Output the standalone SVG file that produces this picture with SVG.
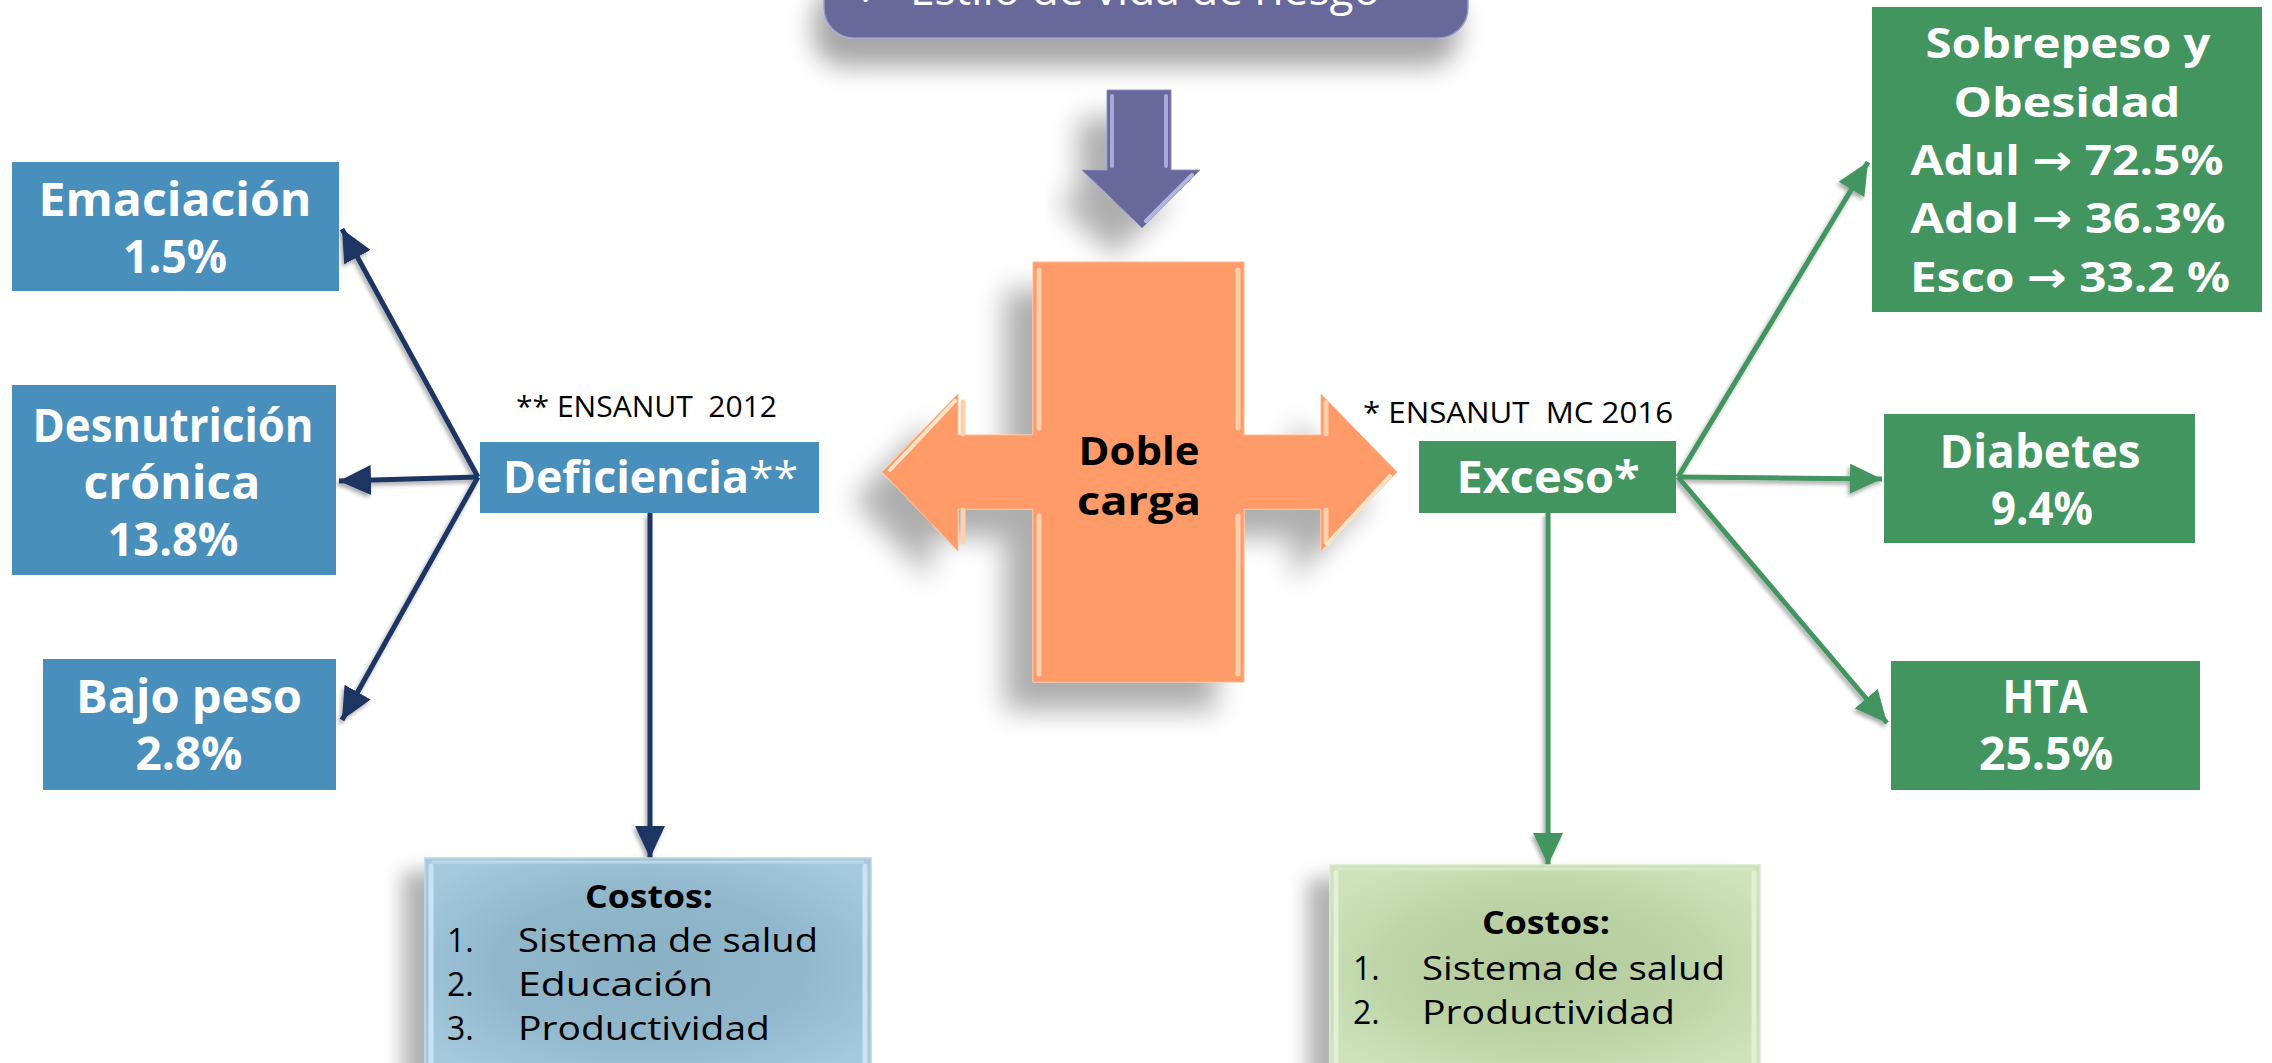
<svg xmlns="http://www.w3.org/2000/svg" width="2272" height="1063" viewBox="0 0 2272 1063">
<defs>
<style>
.bl{font-family:"Open Sans","DejaVu Sans",sans-serif;font-weight:700;fill:#fff;text-anchor:middle}
.bk{font-family:"Open Sans","DejaVu Sans",sans-serif;font-weight:700;fill:#000;text-anchor:middle}
.rg{font-family:"Open Sans","DejaVu Sans",sans-serif;font-weight:400;fill:#000}
.ar{font-family:"DejaVu Sans",sans-serif;font-weight:700}
.blue{fill:#4890bb}
.green{fill:#43955f}
.nav{stroke:#1f3562;stroke-width:5;fill:none}
.grn{stroke:#43955f;stroke-width:5;fill:none}
.hl{stroke-linecap:round;fill:none}
</style>
<marker id="mN" markerUnits="userSpaceOnUse" markerWidth="34" markerHeight="30" refX="32" refY="15" orient="auto"><path d="M0,0 L32,15 L0,30 Z" fill="#1f3562"/></marker>
<marker id="mG" markerUnits="userSpaceOnUse" markerWidth="34" markerHeight="30" refX="32" refY="15" orient="auto"><path d="M0,0 L32,15 L0,30 Z" fill="#43955f"/></marker>
<filter id="shBig" x="-30%" y="-30%" width="160%" height="170%"><feGaussianBlur in="SourceAlpha" stdDeviation="14"/><feOffset dx="-28" dy="28"/><feComponentTransfer><feFuncA type="linear" slope="0.32"/></feComponentTransfer><feMerge><feMergeNode/><feMergeNode in="SourceGraphic"/></feMerge></filter>
<filter id="shTop" x="-20%" y="-50%" width="140%" height="250%"><feGaussianBlur in="SourceAlpha" stdDeviation="13"/><feOffset dx="-10" dy="28"/><feComponentTransfer><feFuncA type="linear" slope="0.35"/></feComponentTransfer><feMerge><feMergeNode/><feMergeNode in="SourceGraphic"/></feMerge></filter>
<filter id="shBox" x="-20%" y="-20%" width="140%" height="150%"><feGaussianBlur in="SourceAlpha" stdDeviation="10"/><feOffset dx="-22" dy="14"/><feComponentTransfer><feFuncA type="linear" slope="0.3"/></feComponentTransfer><feMerge><feMergeNode/><feMergeNode in="SourceGraphic"/></feMerge></filter>
<filter id="shLn" x="-20%" y="-20%" width="140%" height="140%"><feGaussianBlur in="SourceAlpha" stdDeviation="2"/><feOffset dx="-2" dy="3"/><feComponentTransfer><feFuncA type="linear" slope="0.35"/></feComponentTransfer><feMerge><feMergeNode/><feMergeNode in="SourceGraphic"/></feMerge></filter>
<radialGradient id="gBlue" cx="50%" cy="50%" r="62%"><stop offset="0" stop-color="#8ab0c4"/><stop offset="0.55" stop-color="#91b7cc"/><stop offset="1" stop-color="#a5cade"/></radialGradient>
<radialGradient id="gGreen" cx="50%" cy="50%" r="62%"><stop offset="0" stop-color="#b3ca9c"/><stop offset="0.55" stop-color="#bcd3a6"/><stop offset="1" stop-color="#cfe3bb"/></radialGradient>
</defs>

<g id="estilo">
<rect x="824" y="-40" width="644" height="78" rx="30" fill="#67679a" stroke="#9d9dcc" stroke-width="1.5" filter="url(#shTop)"/>
<text x="858" y="5" font-family="DejaVu Sans,sans-serif" font-size="30" fill="#fff">✓</text>
<text x="1145" y="5" font-family="Open Sans,DejaVu Sans,sans-serif" font-size="44" fill="#fff" text-anchor="middle" textLength="470" lengthAdjust="spacingAndGlyphs">Estilo de vida de riesgo</text>
</g>

<g id="flecha-abajo">
<polygon points="1107,90 1171,90 1171,170 1200,170 1142,228 1082,170 1107,170" fill="#67679a" stroke="#8e8ec4" stroke-width="1" filter="url(#shBig)"/>
<line x1="1112" y1="96" x2="1112" y2="166" stroke="#a9a9dc" stroke-width="4" class="hl"/>
<line x1="1166" y1="96" x2="1166" y2="166" stroke="#a9a9dc" stroke-width="4" class="hl"/>
<line x1="1192" y1="175" x2="1146" y2="221" stroke="#b3b3e4" stroke-width="4" class="hl"/>
</g>

<g id="doble-carga">
<polygon points="1033,262 1244,262 1244,435 1321,435 1321,394 1397,472 1321,551 1321,509 1244,509 1244,682 1033,682 1033,509 958,509 958,551 882,472 958,394 958,435 1033,435" fill="#fe9b69" stroke="#ffb98f" stroke-width="1" filter="url(#shBig)"/>
<g stroke="#ffcfae" stroke-width="5" class="hl">
<line x1="1039" y1="270" x2="1039" y2="428"/><line x1="1039" y1="516" x2="1039" y2="674"/>
<line x1="1238" y1="270" x2="1238" y2="428"/><line x1="1238" y1="516" x2="1238" y2="674"/>
<line x1="963" y1="402" x2="963" y2="434"/><line x1="963" y1="510" x2="963" y2="542"/>
<line x1="1326" y1="402" x2="1326" y2="434"/><line x1="1326" y1="510" x2="1326" y2="542"/>
</g>
<line x1="955" y1="401" x2="890" y2="470" stroke="#ffe4c8" stroke-width="4" class="hl"/>
<line x1="1390" y1="476" x2="1327" y2="544" stroke="#ffe4c8" stroke-width="4" class="hl"/>
<text x="1139" y="465" class="bk" font-size="39" textLength="121" lengthAdjust="spacingAndGlyphs">Doble</text>
<text x="1139" y="515" class="bk" font-size="39" textLength="124" lengthAdjust="spacingAndGlyphs">carga</text>
</g>

<g id="connectors">
<g filter="url(#shLn)">
<line x1="478" y1="477" x2="342" y2="229" class="nav" marker-end="url(#mN)"/>
<line x1="478" y1="477" x2="339" y2="481" class="nav" marker-end="url(#mN)"/>
<line x1="478" y1="477" x2="342" y2="720" class="nav" marker-end="url(#mN)"/>
<line x1="650" y1="513" x2="650" y2="858" class="nav" marker-end="url(#mN)"/>
<line x1="1678" y1="477" x2="1868" y2="162" class="grn" marker-end="url(#mG)"/>
<line x1="1678" y1="477" x2="1882" y2="479" class="grn" marker-end="url(#mG)"/>
<line x1="1678" y1="477" x2="1887" y2="723" class="grn" marker-end="url(#mG)"/>
<line x1="1548" y1="513" x2="1548" y2="865" class="grn" marker-end="url(#mG)"/>
</g>
</g>

<g id="emaciacion">
<rect x="12" y="162" width="327" height="129" class="blue"/>
<text x="175" y="216" class="bl" font-size="46" textLength="273" lengthAdjust="spacingAndGlyphs">Emaciación</text>
<text x="175" y="273" class="bl" font-size="46" textLength="104" lengthAdjust="spacingAndGlyphs">1.5%</text>
</g>

<g id="desnutricion">
<rect x="12" y="385" width="324" height="190" class="blue"/>
<text x="173" y="442" class="bl" font-size="46" textLength="281" lengthAdjust="spacingAndGlyphs">Desnutrición</text>
<text x="172" y="499" class="bl" font-size="46" textLength="177" lengthAdjust="spacingAndGlyphs">crónica</text>
<text x="173" y="556" class="bl" font-size="46" textLength="131" lengthAdjust="spacingAndGlyphs">13.8%</text>
</g>

<g id="bajo-peso">
<rect x="43" y="659" width="293" height="131" class="blue"/>
<text x="189" y="713" class="bl" font-size="46" textLength="226" lengthAdjust="spacingAndGlyphs">Bajo peso</text>
<text x="189" y="770" class="bl" font-size="46" textLength="107" lengthAdjust="spacingAndGlyphs">2.8%</text>
</g>

<g id="deficiencia">
<text x="516" y="417" class="rg" font-size="29" textLength="261" lengthAdjust="spacingAndGlyphs" xml:space="preserve">** ENSANUT  2012</text>
<rect x="480" y="442" width="339" height="71" class="blue"/>
<text x="503" y="493" class="bl" font-size="44" style="text-anchor:start" textLength="295" lengthAdjust="spacingAndGlyphs">Deficiencia<tspan font-weight="400">**</tspan></text>
</g>

<g id="costos-deficiencia">
<rect x="425" y="858" width="446" height="215" fill="url(#gBlue)" stroke="#b8d6e6" stroke-width="1.5" filter="url(#shBox)"/>
<line x1="431" y1="866" x2="431" y2="1063" stroke="#c9e3f1" stroke-width="5" class="hl"/>
<line x1="865" y1="866" x2="865" y2="1063" stroke="#c9e3f1" stroke-width="5" class="hl"/>
<line x1="433" y1="862" x2="863" y2="862" stroke="#bcd9e9" stroke-width="3" class="hl"/>
<text x="649" y="908" class="bk" font-size="32" textLength="128" lengthAdjust="spacingAndGlyphs">Costos:</text>
<text x="447" y="952" class="rg" font-size="32">1.</text>
<text x="518" y="952" class="rg" font-size="32" textLength="300" lengthAdjust="spacingAndGlyphs">Sistema de salud</text>
<text x="447" y="996" class="rg" font-size="32">2.</text>
<text x="518" y="996" class="rg" font-size="32" textLength="195" lengthAdjust="spacingAndGlyphs">Educación</text>
<text x="447" y="1040" class="rg" font-size="32">3.</text>
<text x="518" y="1040" class="rg" font-size="32" textLength="252" lengthAdjust="spacingAndGlyphs">Productividad</text>
</g>

<g id="exceso">
<text x="1363" y="423" class="rg" font-size="29" textLength="310" lengthAdjust="spacingAndGlyphs" xml:space="preserve">* ENSANUT  MC 2016</text>
<rect x="1419" y="441" width="257" height="72" class="green"/>
<text x="1548" y="493" class="bl" font-size="44" textLength="183" lengthAdjust="spacingAndGlyphs">Exceso*</text>
</g>

<g id="sobrepeso">
<rect x="1872" y="7" width="390" height="305" class="green"/>
<text x="2068" y="58" class="bl" font-size="42" textLength="285" lengthAdjust="spacingAndGlyphs">Sobrepeso y</text>
<text x="2067" y="117" class="bl" font-size="42" textLength="227" lengthAdjust="spacingAndGlyphs">Obesidad</text>
<text x="2067" y="175" class="bl" font-size="42" textLength="313" lengthAdjust="spacingAndGlyphs">Adul <tspan class="ar">→</tspan> 72.5%</text>
<text x="2068" y="233" class="bl" font-size="42" textLength="315" lengthAdjust="spacingAndGlyphs">Adol <tspan class="ar">→</tspan> 36.3%</text>
<text x="2070" y="292" class="bl" font-size="42" textLength="320" lengthAdjust="spacingAndGlyphs">Esco <tspan class="ar">→</tspan> 33.2 %</text>
</g>

<g id="diabetes">
<rect x="1884" y="414" width="311" height="129" class="green"/>
<text x="2040" y="468" class="bl" font-size="46" textLength="201" lengthAdjust="spacingAndGlyphs">Diabetes</text>
<text x="2042" y="525" class="bl" font-size="46" textLength="102" lengthAdjust="spacingAndGlyphs">9.4%</text>
</g>

<g id="hta">
<rect x="1891" y="661" width="309" height="129" class="green"/>
<text x="2045" y="713" class="bl" font-size="46" textLength="85" lengthAdjust="spacingAndGlyphs">HTA</text>
<text x="2046" y="770" class="bl" font-size="46" textLength="134" lengthAdjust="spacingAndGlyphs">25.5%</text>
</g>

<g id="costos-exceso">
<rect x="1330" y="865" width="430" height="208" fill="url(#gGreen)" stroke="#d9ead0" stroke-width="1.5" filter="url(#shBox)"/>
<line x1="1336" y1="873" x2="1336" y2="1063" stroke="#e3f0d6" stroke-width="5" class="hl"/>
<line x1="1754" y1="873" x2="1754" y2="1063" stroke="#e3f0d6" stroke-width="5" class="hl"/>
<line x1="1338" y1="869" x2="1752" y2="869" stroke="#d8e9c8" stroke-width="3" class="hl"/>
<text x="1546" y="934" class="bk" font-size="32" textLength="128" lengthAdjust="spacingAndGlyphs">Costos:</text>
<text x="1353" y="980" class="rg" font-size="32">1.</text>
<text x="1422" y="980" class="rg" font-size="32" textLength="303" lengthAdjust="spacingAndGlyphs">Sistema de salud</text>
<text x="1353" y="1024" class="rg" font-size="32">2.</text>
<text x="1422" y="1024" class="rg" font-size="32" textLength="253" lengthAdjust="spacingAndGlyphs">Productividad</text>
</g>
</svg>
